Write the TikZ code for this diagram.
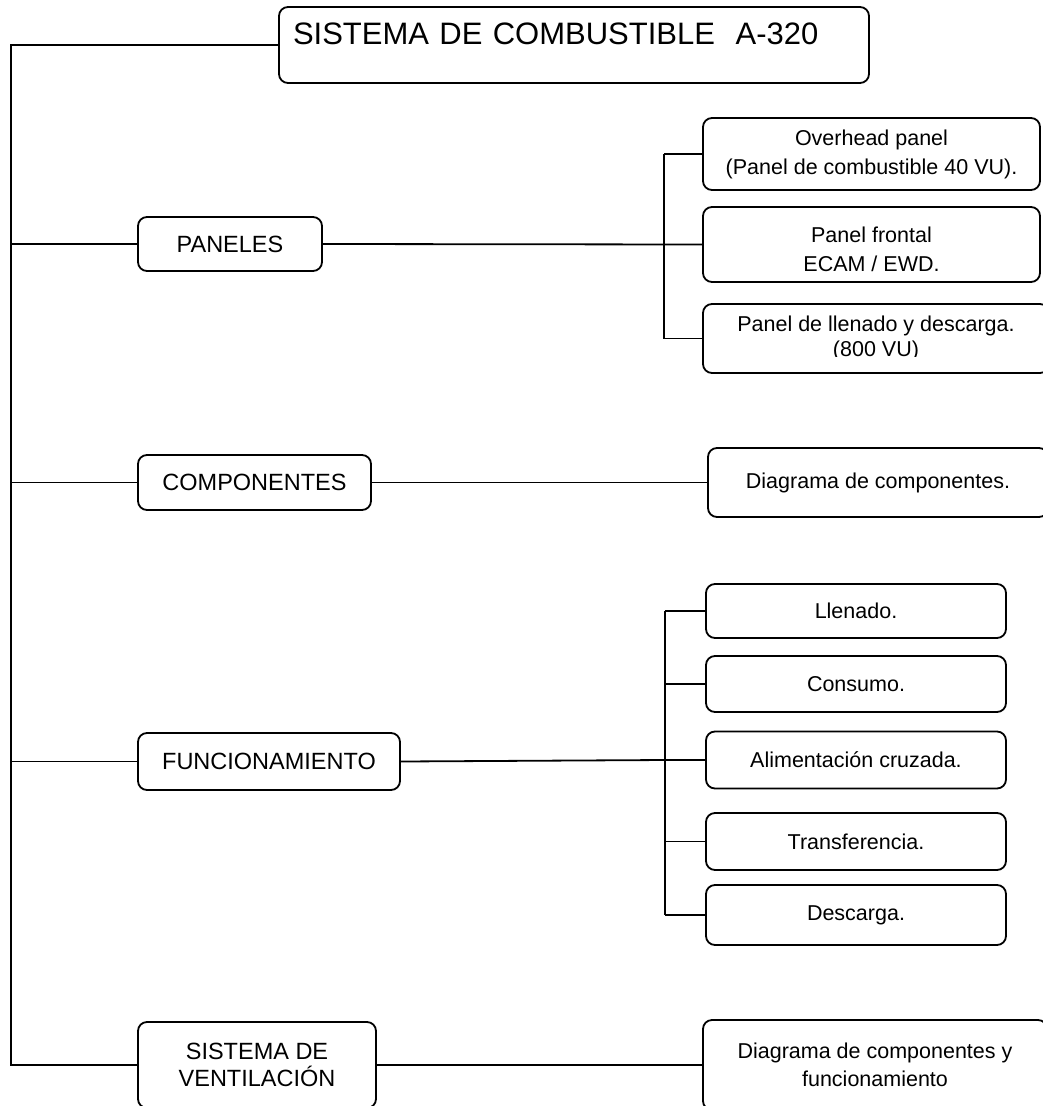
\documentclass[tikz,border=0pt]{standalone}
\usepackage{fontspec}
\setmainfont{Liberation Sans}

\begin{document}
\begin{tikzpicture}[x=1pt,y=-1pt,
  caja/.style={draw, line width=1.8pt, rounded corners=9pt, inner sep=0pt, align=center},
  izq/.style={caja, font=\fontsize{23.5}{27}\selectfont},
  der/.style={caja, font=\fontsize{21.5}{29}\selectfont},
  linea/.style={line width=1.8pt}]
\useasboundingbox (0,0) rectangle (1043,1106);
\clip (0,0) rectangle (1043,1106);

\node[caja, minimum width=590, minimum height=76, text width=562pt, align=left,
  inner xsep=14pt, text height=22pt, text depth=24pt,
  font=\fontsize{31}{37}\selectfont] (titulo) at (574,45) {SISTEMA DE COMBUSTIBLE~~A-320};

\node[izq, minimum width=184, minimum height=54] (paneles) at (230,244) {PANELES};
\node[izq, minimum width=233, minimum height=55] (componentes) at (254.5,482.5) {COMPONENTES};
\node[izq, minimum width=262, minimum height=57] (funcionamiento) at (269,761.5) {FUNCIONAMIENTO};
\node[izq, minimum width=238, minimum height=86] (ventilacion) at (257,1065) {SISTEMA DE\\VENTILACIÓN};

\node[der, minimum width=337, minimum height=72] (overhead) at (871.5,154) {Overhead panel\\(Panel de combustible 40 VU).};
\node[der, minimum width=337, minimum height=75] (frontal) at (871.5,244.5) {\rule{0pt}{26pt}Panel frontal\\ECAM / EWD.};
\node[der, minimum width=346, minimum height=69] (llenadoP) at (876,338.5) {};
\begin{scope}
\clip (703,304) rectangle (1043,356);
\node[align=center, font=\fontsize{21.5}{24.5}\selectfont] (llenadoT) at (llenadoP) {Panel de llenado y descarga.\\(800 VU)};
\end{scope}

\node[der, minimum width=340, minimum height=69] (diagrama) at (878,482.5) {Diagrama de componentes.};

\node[der, minimum width=300, minimum height=54] (llenado) at (856,611) {Llenado.};
\node[der, minimum width=300, minimum height=56] (consumo) at (856,684) {Consumo.};
\node[der, minimum width=300, minimum height=57] (alimentacion) at (856,760) {Alimentación cruzada.};
\node[der, minimum width=300, minimum height=57] (transferencia) at (856,841.5) {Transferencia.};
\node[der, minimum width=300, minimum height=60] (descarga) at (856,915) {Descarga.};

\node[der, minimum width=344, minimum height=90, font=\fontsize{21.5}{28}\selectfont] (diagramaV) at (875,1065) {Diagrama de componentes y\\funcionamiento};

% tronco principal
\coordinate (tronco) at (11,0);
\draw[linea] (titulo.west) -| (tronco |- ventilacion.west) -- (ventilacion.west);
\draw[linea] (tronco |- paneles.west) -- (paneles.west);
\draw[linea] (tronco |- componentes.west) -- (componentes.west);
\draw[linea] (tronco |- funcionamiento.west) -- (funcionamiento.west);

% paneles
\coordinate (busP) at (664,0);
\draw[linea] (paneles.east) -- (frontal.west);
\draw[linea] (busP |- overhead.west) -- (busP |- llenadoP.west);
\draw[linea] (busP |- overhead.west) -- (overhead.west);
\draw[linea] (busP |- llenadoP.west) -- (llenadoP.west);

% componentes
\draw[linea] (componentes.east) -- (diagrama.west);

% funcionamiento
\coordinate (busF) at (665,0);
\draw[linea] (funcionamiento.east) -- (alimentacion.west -| busF) -- (alimentacion.west);
\draw[linea] (busF |- llenado.west) -- (busF |- descarga.west);
\draw[linea] (busF |- llenado.west) -- (llenado.west);
\draw[linea] (busF |- consumo.west) -- (consumo.west);
\draw[linea] (busF |- transferencia.west) -- (transferencia.west);
\draw[linea] (busF |- descarga.west) -- (descarga.west);

% ventilacion
\draw[linea] (ventilacion.east) -- (diagramaV.west);
\end{tikzpicture}
\end{document}
